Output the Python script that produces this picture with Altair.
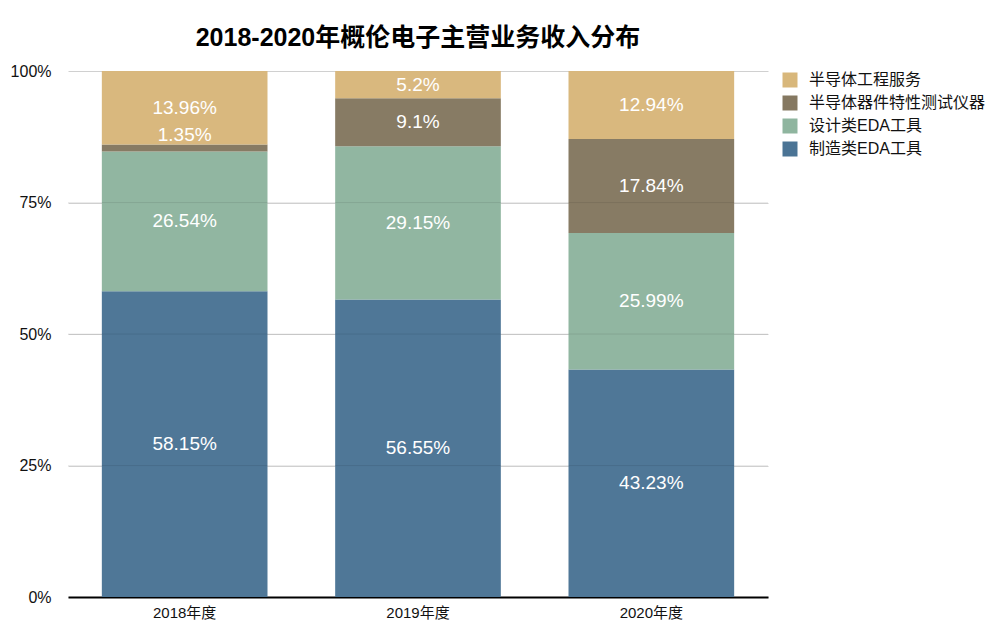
import altair as alt
import pandas as pd

years = ["2018年度", "2019年度", "2020年度"]
segments = ["半导体工程服务", "半导体器件特性测试仪器", "设计类EDA工具", "制造类EDA工具"]
colors = ["#D8B77B", "#857861", "#8FB59F", "#4B7495"]
stack_order = [3, 2, 1, 0]

engineering = [13.96, 5.2, 12.94]
instruments = [1.35, 9.1, 17.84]
design_eda = [26.54, 29.15, 25.99]
manufacturing_eda = [58.15, 56.55, 43.23]

series = [engineering, instruments, design_eda, manufacturing_eda]
grid_values = [0.25, 0.5, 0.75]

rows = []
for si, (seg, vals) in enumerate(zip(segments, series)):
    for yi, yr in enumerate(years):
        rows.append({"year": yr, "segment": seg, "value": vals[yi],
                     "order": stack_order[si]})
df = pd.DataFrame(rows)

FONT = "Liberation Sans, Noto Sans CJK SC, sans-serif"

base = alt.Chart(df).transform_calculate(
    frac="datum.value / 100",
    label="toString(datum.value) + '%'",
).transform_stack(
    stack="frac", groupby=["year"], as_=["y0", "y1"],
    sort=[alt.SortField("order", order="ascending")],
).transform_calculate(
    mid="(datum.y0 + datum.y1) / 2"
)

xenc = alt.X("year:N", title=None, sort=years,
             scale=alt.Scale(paddingInner=0.29, paddingOuter=0.145),
             axis=alt.Axis(labelAngle=0, labelFontSize=15, labelColor="#111",
                           labelFont=FONT, domainColor="#000", domainWidth=2,
                           ticks=False, labelPadding=8))

bars = base.mark_bar(opacity=0.98).encode(
    x=xenc,
    y=alt.Y("y0:Q", title=None,
            scale=alt.Scale(domain=[0, 1]),
            axis=alt.Axis(format=".0%", values=[0, 0.25, 0.5, 0.75, 1.0],
                          labelFontSize=16, labelColor="#111", labelFont=FONT,
                          domain=False, ticks=False, labelPadding=17,
                          gridColor="#d0d0d0", gridWidth=1)),
    y2="y1:Q",
    color=alt.Color("segment:N", sort=segments,
                    scale=alt.Scale(domain=segments, range=colors),
                    legend=alt.Legend(title=None, orient="none",
                                      legendX=714, legendY=1,
                                      symbolType="square", symbolSize=225,
                                      symbolOpacity=1, symbolStrokeWidth=0,
                                      labelFontSize=16, labelFont=FONT,
                                      labelColor="#111", rowPadding=7,
                                      labelOffset=11, labelLimit=400)),
    order=alt.Order("order:Q"),
)

big_labels = base.transform_filter("datum.value >= 3").mark_text(
    color="white", fontSize=19, font=FONT
).encode(x=alt.X("year:N", sort=years), y="mid:Q", text="label:N")

small_labels = base.transform_filter("datum.value < 3").mark_text(
    color="white", fontSize=19, font=FONT, dy=-13
).encode(x=alt.X("year:N", sort=years), y="mid:Q", text="label:N")

grid_df = pd.DataFrame({"g": grid_values})
grid_over = alt.Chart(grid_df).mark_rule(color="#000", opacity=0.08).encode(
    y="g:Q"
)

chart = alt.layer(bars, grid_over, big_labels, small_labels).properties(
    width=700, height=526,
    autosize=alt.AutoSizeParams(type="none"),
    title=alt.TitleParams("2018-2020年概伦电子主营业务收入分布", fontSize=25,
                          font=FONT, fontWeight="bold", color="#000",
                          anchor="middle", offset=12),
    padding={"left": 60, "top": 63, "right": 222, "bottom": 32},
).configure_view(stroke=None)

chart.save("out.html", embed_options={"renderer": "svg", "actions": False})
